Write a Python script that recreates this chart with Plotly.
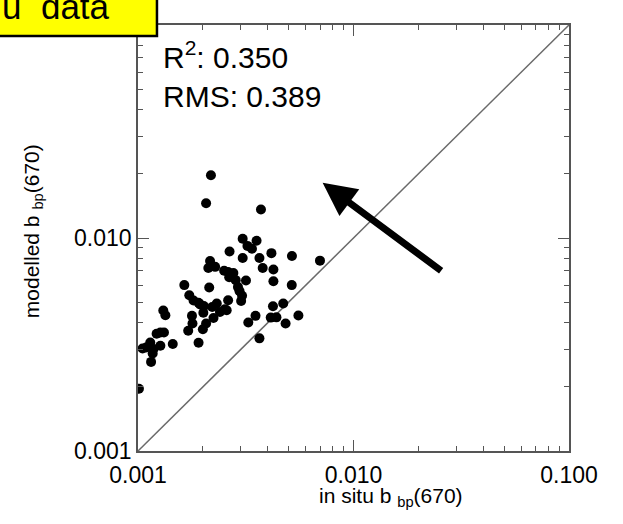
import math
import plotly.graph_objects as go

# in situ bbp(670) (x) vs modelled bbp(670) (y)
insitu_bbp = [
    0.00218, 0.00207, 0.00372, 0.00306, 0.00355, 0.00322, 0.00338, 0.00266, 0.00416, 0.00306,
    0.00366, 0.00518, 0.00699, 0.00216, 0.00228, 0.00212, 0.00379, 0.00425, 0.00251, 0.00262,
    0.00277, 0.00265, 0.00425, 0.00284, 0.00317, 0.00164, 0.00214, 0.00291, 0.00517, 0.00296,
    0.00173, 0.00304, 0.00181, 0.00191, 0.00262, 0.00301, 0.00202, 0.00232, 0.00221, 0.00472,
    0.00423, 0.00258, 0.00240, 0.00131, 0.00134, 0.00201, 0.00178, 0.00351, 0.00224, 0.00413,
    0.00439, 0.00555, 0.00325, 0.00484, 0.00179, 0.00207, 0.00200, 0.00171, 0.00127, 0.00132,
    0.00122, 0.00114, 0.00109, 0.00105, 0.00118, 0.00127, 0.00145, 0.00191, 0.00117, 0.00115,
    0.00366, 0.00101, 0.00194, 0.00253,
]
modelled_bbp = [
    0.01970, 0.01456, 0.01362, 0.00992, 0.00971, 0.00918, 0.00891, 0.00865, 0.00849, 0.00805,
    0.00805, 0.00823, 0.00783, 0.00780, 0.00732, 0.00723, 0.00723, 0.00711, 0.00702, 0.00693,
    0.00685, 0.00654, 0.00627, 0.00634, 0.00632, 0.00601, 0.00586, 0.00588, 0.00601, 0.00563,
    0.00539, 0.00536, 0.00509, 0.00497, 0.00510, 0.00506, 0.00479, 0.00493, 0.00474, 0.00493,
    0.00478, 0.00458, 0.00449, 0.00457, 0.00434, 0.00446, 0.00431, 0.00431, 0.00421, 0.00423,
    0.00424, 0.00433, 0.00401, 0.00397, 0.00397, 0.00397, 0.00373, 0.00367, 0.00360, 0.00360,
    0.00355, 0.00323, 0.00306, 0.00303, 0.00301, 0.00312, 0.00318, 0.00322, 0.00287, 0.00262,
    0.00338, 0.00196, 0.00488, 0.00463,
]
one_to_one = [0.001, 0.1]
tick_vals = [0.001, 0.01, 0.1]
tick_text = ["0.001", "0.010", "0.100"]
r2_text = "R<sup>2</sup>: 0.350"
rms_text = "RMS: 0.389"
arrow_head = (0.00719, 0.01815)

FONT = "Arial, Liberation Sans, sans-serif"
AXC = "#555555"
minor_vals = [m * d for d in (0.001, 0.01) for m in range(2, 10)]

fig = go.Figure()
fig.add_trace(go.Scatter(x=one_to_one, y=one_to_one, mode="lines",
                         line=dict(color="#6a6a6a", width=1.5), hoverinfo="skip"))
fig.add_trace(go.Scatter(x=insitu_bbp, y=modelled_bbp, mode="markers",
                         marker=dict(color="black", size=10, line=dict(width=0))))

axis_common = dict(
    type="log", range=[-3, -1], showgrid=False, zeroline=False,
    showline=True, linecolor=AXC, linewidth=1.5, mirror="allticks",
    ticks="inside", ticklen=11, tickwidth=1.3, tickcolor=AXC,
    tickmode="array", tickvals=tick_vals, ticktext=tick_text,
    tickfont=dict(family=FONT, size=23, color="black"),
    minor=dict(ticks="inside", ticklen=5, tickwidth=1.3, tickcolor=AXC,
               tickmode="array", tickvals=minor_vals, showgrid=False),
)
fig.update_xaxes(**axis_common, ticklabelstandoff=3)
fig.update_yaxes(**axis_common)

fig.update_layout(
    width=623, height=524,
    margin=dict(l=138, r=54, t=22, b=73),
    paper_bgcolor="white", plot_bgcolor="white",
    showlegend=False,
    font=dict(family=FONT, color="black"),
    shapes=[dict(type="rect", xref="paper", yref="paper",
                 x0=-0.4, x1=0.044, y0=0.974, y1=1.2,
                 fillcolor="#ffff00", line=dict(color="black", width=2.5), layer="above")],
    annotations=[
        dict(text="u  data", xref="paper", yref="paper", x=-0.06, y=1.044,
             xanchor="right", yanchor="middle", showarrow=False,
             font=dict(size=35, family=FONT, color="black")),
        dict(text=r2_text + "<br>" + rms_text, xref="paper", yref="paper",
             x=0.053, y=0.98, xanchor="left", yanchor="top", align="left",
             showarrow=False, font=dict(size=30, family=FONT, color="black")),
        dict(text="in situ b <sub>bp</sub>(670)", xref="paper", yref="paper",
             x=0.588, y=-0.108, xanchor="center", yanchor="middle", showarrow=False,
             font=dict(size=21, family=FONT, color="black")),
        dict(text="modelled b <sub>bp</sub>(670)", xref="paper", yref="paper",
             x=-0.2436, y=0.516, xanchor="center", yanchor="middle", textangle=-90,
             showarrow=False, font=dict(size=21, family=FONT, color="black")),
        dict(text="", xref="x", yref="y",
             x=math.log10(arrow_head[0]), y=math.log10(arrow_head[1]),
             ax=120, ay=89, showarrow=True, arrowhead=2, arrowsize=0.95,
             arrowwidth=7, arrowcolor="black"),
    ],
)

fig.write_html("out.html")
